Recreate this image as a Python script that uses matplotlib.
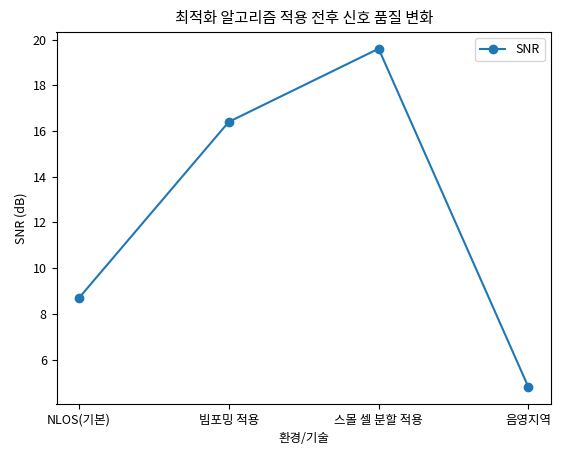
import matplotlib.pyplot as plt

plt.rcParams['font.family'] = ['Noto Sans CJK KR', 'DejaVu Sans']
plt.rcParams['axes.unicode_minus'] = False

# 데이터
labels = ['NLOS(기본)', '빔포밍 적용', '스몰 셀 분할 적용', '음영지역']
snr = [8.7, 16.4, 19.6, 4.8]

fig, ax = plt.subplots(figsize=(5.65, 4.54), dpi=100)
ax.plot(labels, snr, marker='o', label='SNR')

ax.set_title('최적화 알고리즘 적용 전후 신호 품질 변화', fontsize=11)
ax.set_xlabel('환경/기술', fontsize=9)
ax.set_ylabel('SNR (dB)', fontsize=9)
ax.tick_params(labelsize=9)
ax.legend(fontsize=9)

fig.subplots_adjust(left=0.1, right=0.975, bottom=0.11, top=0.93)
fig.savefig('out.png')
